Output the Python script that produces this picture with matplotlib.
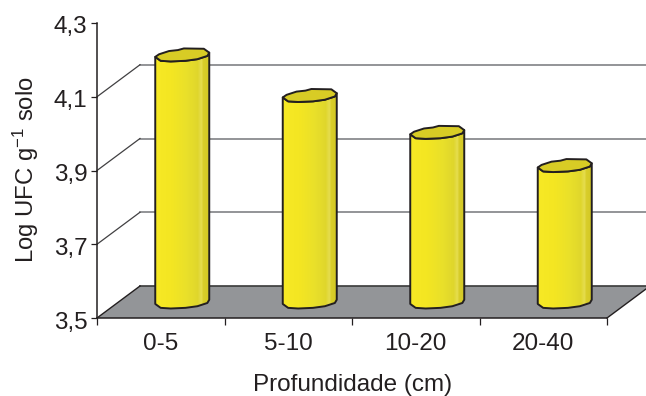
#!/usr/bin/env python3
import matplotlib

matplotlib.use("Agg")
import matplotlib.pyplot as plt
import numpy as np
from matplotlib.colors import LinearSegmentedColormap
from matplotlib.patches import PathPatch, Polygon
from matplotlib.path import Path
from matplotlib.transforms import ScaledTranslation

categories = ["0-5", "5-10", "10-20", "20-40"]
log_ufc = [4.17, 4.06, 3.96, 3.87]
y_ticks = [3.5, 3.7, 3.9, 4.1, 4.3]
y_tick_labels = ["3,5", "3,7", "3,9", "4,1", "4,3"]
grid_levels = [3.7, 3.9, 4.1]

WIDTH, HEIGHT = 646, 396
LEFT, RIGHT, BOTTOM, TOP = 97, 607, 318, 23
DEPTH_X, DEPTH_Y = 43, 32

# rough outline of the bar cap, in half widths / half heights
CAP_U = [-1.0, -0.86, -0.49, -0.16, 0.06, 0.8, 1.0, 0.93, 0.56, 0.12, -0.43, -0.8]
CAP_V = [-0.3, 0.1, 0.6, 0.75, 1.0, 0.95, 0.35, -0.15, -0.65, -0.9, -1.0, -0.9]
BAR_HALF_W = 27.0
CAP_HALF_H = 6.5

plt.rcParams["font.family"] = ["Liberation Sans", "DejaVu Sans"]
plt.rcParams["mathtext.default"] = "regular"

fig = plt.figure(figsize=(WIDTH / 100, HEIGHT / 100), dpi=100)
ax = fig.add_axes([
    LEFT / WIDTH,
    1 - BOTTOM / HEIGHT,
    (RIGHT - LEFT) / WIDTH,
    (BOTTOM - TOP) / HEIGHT,
])
ax.set_xlim(0, len(categories))
ax.set_ylim(y_ticks[0], y_ticks[-1])

unit_x = (RIGHT - LEFT) / len(categories)
unit_y = (BOTTOM - TOP) / (y_ticks[-1] - y_ticks[0])
depth_x = DEPTH_X / unit_x
depth_y = DEPTH_Y / unit_y
n_cat = len(categories)

# floor
ax.add_patch(Polygon(
    [(0, 3.5), (n_cat, 3.5), (n_cat + depth_x, 3.5 + depth_y), (depth_x, 3.5 + depth_y)],
    closed=True, facecolor="#939598", edgecolor="none", clip_on=False, zorder=1,
))
ax.plot([depth_x, n_cat + depth_x], [3.5 + depth_y] * 2, color="#3a3a3a", lw=1.2,
        clip_on=False, zorder=2)
ax.plot([0, depth_x], [3.5, 3.5 + depth_y], color="#231f20", lw=1.0, clip_on=False, zorder=2)
ax.plot([n_cat, n_cat + depth_x], [3.5, 3.5 + depth_y], color="#231f20", lw=1.0,
        clip_on=False, zorder=2)

# back wall grid
for level in grid_levels:
    ax.plot([depth_x, n_cat + depth_x], [level + depth_y] * 2, color="#808285", lw=1.2,
            clip_on=False, zorder=2)
    ax.plot([0, depth_x], [level, level + depth_y], color="#414042", lw=0.9,
            clip_on=False, zorder=2)

# cylinders
body_cmap = LinearSegmentedColormap.from_list(
    "body",
    [(0, "#f7e925"), (0.3, "#f4e622"), (0.6, "#e9e02a"), (0.8, "#dfd62c"),
     (0.87, "#e6de50"), (0.9, "#d8cd2a"), (1, "#d4c925")],
)
cap_u = np.array(CAP_U) * BAR_HALF_W / unit_x
cap_v = np.array(CAP_V) * CAP_HALF_H / unit_y
# lower half of the cap, left to right, gives the bottom edge of the body
lower = [6, 7, 8, 9, 10, 11, 0]

for i, value in enumerate(log_ufc):
    cx = i + 0.5 + depth_x / 2
    base = 3.5 + depth_y / 2
    top = value + depth_y / 2

    top_low = [(cx + cap_u[k], top + cap_v[k]) for k in lower]
    base_low = [(cx + cap_u[k], base + cap_v[k]) for k in lower]
    body_pts = top_low + base_low[::-1]
    body = Polygon(body_pts, closed=True, facecolor="none", edgecolor="#231f20", lw=1.4,
                   joinstyle="round", clip_on=False, zorder=5)
    ax.add_patch(body)

    gradient = ax.imshow(
        np.linspace(0, 1, 64).reshape(1, -1), cmap=body_cmap, aspect="auto", zorder=4,
        extent=(cx + cap_u.min(), cx + cap_u.max(), base - 0.05, top + 0.05),
    )
    clip = PathPatch(Path(body_pts + [body_pts[0]]), transform=ax.transData)
    gradient.set_clip_path(clip)

    ax.add_patch(Polygon(
        [(cx + u, top + v) for u, v in zip(cap_u, cap_v)], closed=True,
        facecolor="#d8cc25", edgecolor="#231f20", lw=1.4, joinstyle="round",
        clip_on=False, zorder=6,
    ))

ax.set_xlim(0, n_cat)
ax.set_ylim(y_ticks[0], y_ticks[-1])

for side in ("top", "right"):
    ax.spines[side].set_visible(False)
for side in ("left", "bottom"):
    ax.spines[side].set_color("#231f20")
    ax.spines[side].set_linewidth(1.1)
    ax.spines[side].set_zorder(7)
ax.patch.set_alpha(0)

ax.set_yticks(y_ticks)
ax.set_yticklabels(y_tick_labels, fontsize=17.5, color="#231f20")
ax.set_xticks(range(n_cat + 1))
ax.set_xticklabels([])
ax.set_xticks(np.arange(n_cat) + 0.5, labels=categories, minor=True)
ax.tick_params(axis="x", which="major", length=5, width=0.9, color="#231f20")
ax.tick_params(axis="x", which="minor", length=0, pad=11, labelsize=17.5, labelcolor="#231f20")
ax.tick_params(axis="y", length=4, width=0.9, pad=3, color="#231f20")

# tick labels sit a little below their ticks in the original
nudge = ScaledTranslation(0, -2 / 100, fig.dpi_scale_trans)
for label in ax.get_yticklabels():
    label.set_transform(label.get_transform() + nudge)

fig.text(353 / WIDTH, 1 - 385 / HEIGHT, "Profundidade (cm)", ha="center", va="center",
         fontsize=17.5, color="#231f20")
fig.text(26 / WIDTH, 1 - 170 / HEIGHT, "Log UFC g$^{-1}$ solo", ha="center", va="center",
         rotation=90, fontsize=17.2, color="#231f20")

fig.savefig("out.png", dpi=100)
